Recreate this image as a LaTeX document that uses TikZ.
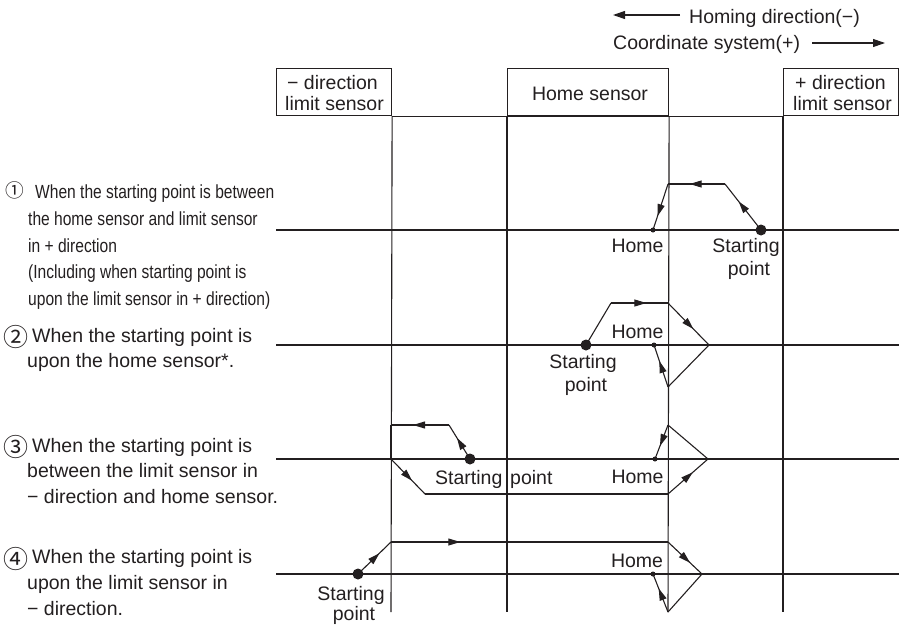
\documentclass[tikz,border=0pt]{standalone}
\usepackage{fontspec}
\setmainfont{Liberation Sans}
\newfontfamily\narrowfont[FakeStretch=0.82]{Liberation Sans}
\newfontfamily\symfont{Noto Sans CJK JP}
\usetikzlibrary{arrows.meta,decorations.markings}
\definecolor{ink}{HTML}{231F20}
\tikzset{
  ln/.style={line width=1.1pt, draw=ink},
  txt/.style={inner sep=0pt, font=\fontsize{19.5}{22}\selectfont, text=ink},
  ntxt/.style={inner sep=0pt, font=\narrowfont\fontsize{19}{22}\selectfont, text=ink},
  numa/.style={inner sep=0pt, font=\symfont\fontsize{18.7}{20}\selectfont, text=ink},
  numb/.style={inner sep=0pt, font=\symfont\fontsize{25}{27}\selectfont, text=ink},
  sensorbox/.style={draw=ink, line width=1.1pt, inner sep=0pt, anchor=north west, minimum height=47pt},
  bigdot/.style={circle, fill=ink, inner sep=0pt, minimum size=11pt},
  smalldot/.style={circle, fill=ink, inner sep=0pt, minimum size=5pt},
  tip/.style={-{Triangle[length=12pt,width=8pt]}},
  midarr/.style={postaction={decorate}, decoration={markings, mark=at position #1 with {\arrow{Triangle[length=12pt,width=7pt]}}}},
  midarr/.default=0.62,
}
\begin{document}
\begin{tikzpicture}[x=1pt,y=-1pt]
\useasboundingbox (0,0) rectangle (899,624);
% legend
\node[txt,anchor=base west] (lg1) at (689,23) {Homing direction(−)};
\node[txt,anchor=base west] (lg2) at (613,49) {Coordinate system(+)};
\coordinate (la1) at (680,15); \coordinate (la2) at (613,15);
\coordinate (lb1) at (812,43); \coordinate (lb2) at (885,43);
\draw[ln,tip] (la1) -- (la2);
\draw[ln,tip] (lb1) -- (lb2);
% sensor boxes
\node[sensorbox, minimum width=115pt] (bL) at (276,68) {};
\node[sensorbox, minimum width=161pt] (bH) at (507,68) {};
\node[sensorbox, minimum width=115pt] (bR) at (783,68) {};
\node[txt,anchor=base west] (bLa) at (287,89) {− direction};
\node[txt,anchor=base west] (bLb) at (285,110) {limit sensor};
\node[txt,anchor=base] (bHa) at (590,100) {Home sensor};
\node[txt,anchor=base west] (bRa) at (795,89) {+ direction};
\node[txt,anchor=base west] (bRb) at (793,110) {limit sensor};
\draw[ln] (bL.south east) -- (bR.south west);
% verticals
\coordinate (vL) at (391,612); \coordinate (vH1) at (507,612);
\coordinate (vH2) at (668,612); \coordinate (vR) at (783,612);
\draw[ln] (bL.south east) -- (vL);
\draw[ln] (bH.south west) -- (vH1);
\draw[ln] (bH.south east) -- (vH2);
\draw[ln] (bR.south west) -- (vR);
% row lines
\coordinate (r1a) at (276,230); \coordinate (r1b) at (899,230);
\coordinate (r2a) at (276,345); \coordinate (r2b) at (899,345);
\coordinate (r3a) at (276,459); \coordinate (r3b) at (899,459);
\coordinate (r4a) at (276,574); \coordinate (r4b) at (899,574);
\draw[ln] (r1a) -- (r1b);
\draw[ln] (r2a) -- (r2b);
\draw[ln] (r3a) -- (r3b);
\draw[ln] (r4a) -- (r4b);
% row 1
\node[bigdot] (s1) at (761,230) {};
\node[smalldot] (h1) at (653,230) {};
\coordinate (p1a) at (725,184); \coordinate (p1b) at (668,184);
\draw[ln,midarr] (s1.center) -- (p1a);
\draw[ln,midarr] (p1a) -- (p1b);
\draw[ln,midarr=0.7] (p1b) -- (h1.center);
\node[txt,anchor=base] (hl1) at (637.5,252) {Home};
\node[txt,anchor=base] (sl1a) at (746,252) {Starting};
\node[txt,anchor=base] (sl1b) at (749,275) {point};
% row 2
\node[bigdot] (s2) at (586,345) {};
\node[smalldot] (h2) at (654,345) {};
\coordinate (p2a) at (611,303); \coordinate (p2b) at (668,303);
\coordinate (p2c) at (709,345); \coordinate (p2d) at (668,387);
\draw[ln] (s2.center) -- (p2a);
\draw[ln,midarr] (p2a) -- (p2b);
\draw[ln,midarr] (p2b) -- (p2c);
\draw[ln] (p2c) -- (p2d);
\draw[ln,midarr] (p2d) -- (h2.center);
\node[txt,anchor=base] (hl2) at (637.5,338) {Home};
\node[txt,anchor=base] (sl2a) at (583,368) {Starting};
\node[txt,anchor=base] (sl2b) at (586,391) {point};
% row 3
\node[bigdot] (s3) at (470,459) {};
\node[smalldot] (h3) at (655,459) {};
\coordinate (p3a) at (449,425); \coordinate (p3b) at (391,425);
\coordinate (p3c) at (391,459); \coordinate (p3d) at (425,494);
\coordinate (p3e) at (668,494); \coordinate (p3f) at (708,459);
\coordinate (p3g) at (668,425);
\draw[ln,midarr] (s3.center) -- (p3a);
\draw[ln,midarr] (p3a) -- (p3b);
\draw[ln] (p3b) -- (p3c);
\draw[ln,midarr] (p3c) -- (p3d);
\draw[ln] (p3d) -- (p3e);
\draw[ln,midarr] (p3e) -- (p3f);
\draw[ln] (p3f) -- (p3g);
\draw[ln,midarr] (p3g) -- (h3.center);
\node[txt,anchor=base west] (sl3a) at (435,484) {Starting};
\node[txt,anchor=base west] (sl3b) at (510,484) {point};
\node[txt,anchor=base] (hl3) at (637.5,483) {Home};
% row 4
\node[bigdot] (s4) at (358,574) {};
\node[smalldot] (h4) at (653,574) {};
\coordinate (p4a) at (391,542); \coordinate (p4b) at (668,542);
\coordinate (p4c) at (702,574); \coordinate (p4d) at (668,612);
\draw[ln,midarr=0.65] (s4.center) -- (p4a);
\draw[ln,midarr=0.25] (p4a) -- (p4b);
\draw[ln,midarr=0.65] (p4b) -- (p4c);
\draw[ln] (p4c) -- (p4d);
\draw[ln,midarr] (p4d) -- (h4.center);
\node[txt,anchor=base] (hl4) at (637,567) {Home};
\node[txt,anchor=base] (sl4a) at (351,600) {Starting};
\node[txt,anchor=base] (sl4b) at (354,620) {point};
% left descriptions
\node[numa,anchor=base west] (n1) at (5.6,197.5) {①};
\node[ntxt,anchor=base west] (t1a) at (35,198) {When the starting point is between};
\node[ntxt,anchor=base west] (t1b) at (28,225) {the home sensor and limit sensor};
\node[ntxt,anchor=base west] (t1c) at (28,252) {in + direction};
\node[ntxt,anchor=base west] (t1d) at (28,278) {(Including when starting point is};
\node[ntxt,anchor=base west] (t1e) at (28,305) {upon the limit sensor in + direction)};
\node[numb,anchor=base west] (n2) at (3.7,346) {②};
\node[txt,anchor=base west] (t2a) at (32,342) {When the starting point is};
\node[txt,anchor=base west] (t2b) at (27,367) {upon the home sensor*.};
\node[numb,anchor=base west] (n3) at (3.7,456) {③};
\node[txt,anchor=base west] (t3a) at (32,452) {When the starting point is};
\node[txt,anchor=base west] (t3b) at (27,477) {between the limit sensor in};
\node[txt,anchor=base west] (t3c) at (27,503) {− direction and home sensor.};
\node[numb,anchor=base west] (n4) at (3.7,568) {④};
\node[txt,anchor=base west] (t4a) at (32,563) {When the starting point is};
\node[txt,anchor=base west] (t4b) at (27,589) {upon the limit sensor in};
\node[txt,anchor=base west] (t4c) at (27,615) {− direction.};
\end{tikzpicture}
\end{document}
